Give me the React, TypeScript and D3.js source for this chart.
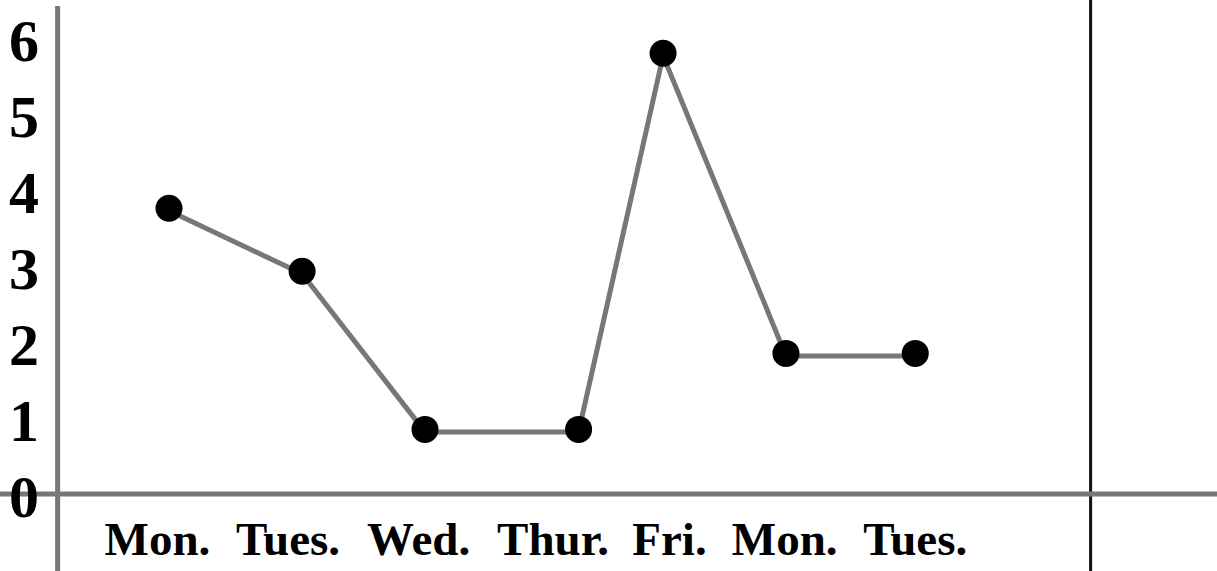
import React from "react";
import * as d3 from "d3";

const W = 1217;
const H = 571;

// x positions in "day units"
const categories = ["Mon.", "Tues.", "Wed.", "Thur.", "Fri.", "Mon.", "Tues."];
const labelPos = [0.91, 1.93, 2.95, 4.0, 4.91, 5.81, 6.83];
const pointPos = [1.0, 2.04, 3.0, 4.2, 4.86, 5.82, 6.83];
const values = [3.76, 2.93, 0.85, 0.85, 5.8, 1.85, 1.85];
const yTicks = [0, 1, 2, 3, 4, 5, 6];

export default function App() {
  const x = d3.scaleLinear().domain([0, 9]).range([41, 1193]);
  const y = d3.scaleLinear().domain([0, 6]).range([494, 38]);
  const axisX = x(0.13);
  const rightX = x(8.2);

  const pts = pointPos.map((p, i) => [x(p), y(values[i])] as [number, number]);
  const line = d3.line<[number, number]>()(pts) || "";

  const font = "'Liberation Serif', 'Times New Roman', serif";

  return (
    <svg
      width={W}
      height={H}
      style={{ position: "absolute", left: 0, top: 0, background: "#fff" }}
    >
      {/* right boundary */}
      <line x1={rightX} x2={rightX} y1={0} y2={H} stroke="#111" strokeWidth={3} />
      {/* y axis */}
      <line x1={axisX} x2={axisX} y1={6} y2={H} stroke="#777" strokeWidth={5} />
      {/* x axis */}
      <line x1={0} x2={W} y1={y(0)} y2={y(0)} stroke="#777" strokeWidth={5} />

      {yTicks.map((t) => (
        <text
          key={t}
          x={24}
          y={y(t) + 3}
          textAnchor="middle"
          dominantBaseline="central"
          fontFamily={font}
          fontWeight="bold"
          fontSize={60}
          fill="#000"
        >
          {t}
        </text>
      ))}

      {categories.map((c, i) => (
        <text
          key={i}
          x={x(labelPos[i])}
          y={555}
          textAnchor="middle"
          fontFamily={font}
          fontWeight="bold"
          fontSize={47}
          fill="#000"
        >
          {c}
        </text>
      ))}

      <path d={line} transform="translate(0,2.5)" fill="none" stroke="#777" strokeWidth={5} strokeLinejoin="miter" />
      {pts.map((p, i) => (
        <circle key={i} cx={p[0]} cy={p[1]} r={13.5} fill="#000" />
      ))}
    </svg>
  );
}
